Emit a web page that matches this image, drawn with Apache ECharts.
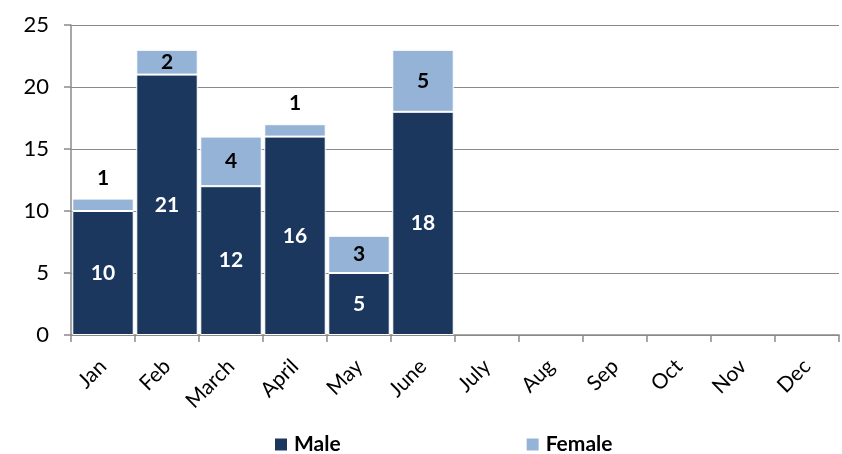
<!DOCTYPE html>
<html><head><meta charset="utf-8">
<script src="https://cdn.jsdelivr.net/npm/echarts@6/dist/echarts.min.js"></script>
<style>html,body{margin:0;padding:0;background:#fff}#c{width:842px;height:454px}</style>
</head><body><div id="c"></div>
<script>
const categories = ['Jan','Feb','March','April','May','June','July','Aug','Sep','Oct','Nov','Dec'];
const male = [10, 21, 12, 16, 5, 18, null, null, null, null, null, null];
const female = [1, 2, 4, 1, 3, 5, null, null, null, null, null, null];
const yTicks = [0, 5, 10, 15, 20, 25];

const FONT = 'Lato, "Open Sans", sans-serif';
const chart = echarts.init(document.getElementById('c'));
chart.setOption({
  animation: false,
  grid: { left: 71, right: 3, top: 25, bottom: 119, containLabel: false },
  legend: {
    top: 429, left: 268, itemGap: 184, itemWidth: 14, itemHeight: 14, icon: 'rect',
    textStyle: { fontFamily: FONT, fontWeight: 'bold', fontSize: 21, color: '#000', padding: [0, 0, 0, 1] },
    data: ['Male', 'Female']
  },
  xAxis: {
    type: 'category', data: categories,
    axisLine: { lineStyle: { color: '#8a8a8a', width: 1.5 } },
    axisTick: { show: true, length: 7, lineStyle: { color: '#8a8a8a', width: 1.5 } },
    axisLabel: { rotate: 45, fontFamily: FONT, fontSize: 21, color: '#000', margin: 28 }
  },
  yAxis: {
    type: 'value', min: yTicks[0], max: yTicks[yTicks.length - 1], interval: 5,
    axisLine: { show: true, lineStyle: { color: '#8a8a8a', width: 1.5 } },
    axisTick: { show: true, length: 7, lineStyle: { color: '#8a8a8a', width: 1.5 } },
    splitLine: { lineStyle: { color: '#8a8a8a', width: 1.2 } },
    axisLabel: { fontFamily: FONT, fontSize: 22, color: '#000', margin: 22 }
  },
  series: [
    {
      name: 'Male', type: 'bar', stack: 'g', barCategoryGap: '4%',
      data: male,
      itemStyle: { color: '#1b375e', borderColor: '#fff', borderWidth: 1 },
      label: { show: true, position: 'inside', color: '#fff', fontFamily: FONT, fontWeight: 'bold', fontSize: 21 }
    },
    {
      name: 'Female', type: 'bar', stack: 'g', barCategoryGap: '4%',
      data: female.map(v => v === 1 ? { value: v, label: { position: 'top', distance: 10 } } : v),
      itemStyle: { color: '#95b3d7', borderColor: '#fff', borderWidth: 1 },
      label: { show: true, position: 'inside', color: '#000', fontFamily: FONT, fontWeight: 'bold', fontSize: 21 }
    }
  ]
});
</script></body></html>
